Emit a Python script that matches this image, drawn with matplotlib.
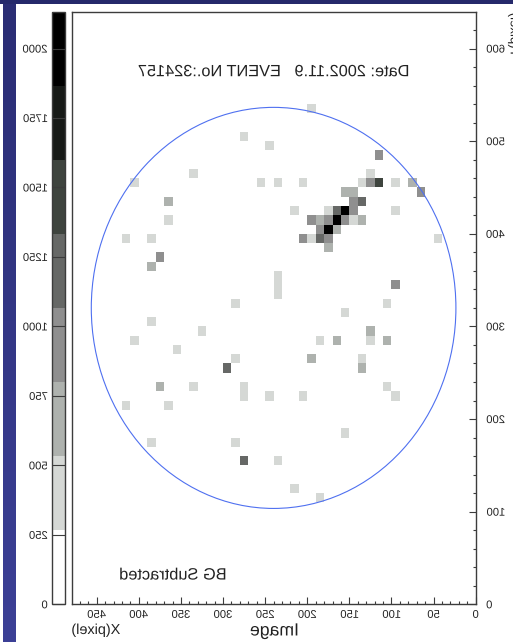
import numpy as np
import matplotlib
matplotlib.use("Agg")
import matplotlib.pyplot as plt
from matplotlib.colors import ListedColormap, BoundaryNorm, LinearSegmentedColormap
from matplotlib.patches import Circle, Rectangle
from matplotlib.patheffects import AbstractPathEffect
from matplotlib.transforms import Affine2D

plt.rcParams['font.family'] = ['Liberation Sans', 'DejaVu Sans']

# Event image: occupied 10x10 pixel bins as (column, row), grouped by count
cells_400 = [(12, 46), (25, 45), (23, 45), (20, 45), (13, 45), (9, 45), (21, 42), (17, 42), (9, 42),
             (14, 41), (19, 39), (4, 39), (23, 35), (23, 34), (23, 33), (24, 49), (10, 32), (19, 53),
             (27, 50), (33, 46), (40, 45), (36, 41), (41, 39), (38, 39), (28, 32), (38, 30), (32, 29),
             (40, 28), (35, 27), (28, 26), (33, 23), (27, 23), (27, 22), (24, 22), (41, 21), (36, 21),
             (38, 17), (28, 17), (23, 15), (15, 31), (12, 28), (18, 28), (13, 26), (10, 23), (9, 22),
             (20, 22), (15, 18), (21, 12), (18, 11)]
cells_650 = [(7, 45), (15, 44), (14, 44), (18, 41), (13, 41), (16, 40), (17, 38), (36, 43), (38, 36),
             (37, 23), (12, 29), (10, 28), (16, 28), (19, 26), (13, 25)]
cells_950 = [(11, 48), (12, 45), (6, 44), (14, 43), (14, 42), (19, 41), (17, 41), (15, 41), (18, 40),
             (20, 39), (17, 39), (9, 34), (37, 37)]
cells_1200 = [(13, 43), (16, 42), (18, 39), (29, 25), (27, 15)]
cells_1450 = [(11, 45)]
cells_2000 = [(15, 42), (16, 41), (17, 40)]

levels = [0, 266.67, 533.33, 800, 1066.67, 1333.33, 1600, 1866.67, 2133.33]
level_colors = ['#ffffff', '#d5d8d5', '#aeb2ae', '#8f8f8f', '#666866', '#3e443e', '#171a17', '#000000']
x_ticks = [0, 50, 100, 150, 200, 250, 300, 350, 400, 450]
y_ticks = [0, 100, 200, 300, 400, 500, 600]
bar_ticks = [0, 250, 500, 750, 1000, 1250, 1500, 1750, 2000]
ring_centre = (240, 320)
ring_radius = 216.5

W, H = 513, 642
INK = '#3c3c3c'


class Mirror(AbstractPathEffect):
    """Draw glyphs reflected left to right about the middle of the string."""
    def draw_path(self, renderer, gc, tpath, affine, rgbFace=None):
        ext = tpath.transformed(affine).get_extents()
        cx = (ext.x0 + ext.x1) / 2
        flip = Affine2D().translate(-cx, 0).scale(-1, 1).translate(cx, 0)
        renderer.draw_path(gc, tpath, affine + flip, rgbFace)


def box(l, t, r, b):
    return [l / W, 1 - b / H, (r - l) / W, (b - t) / H]


fig = plt.figure(figsize=(W / 100, H / 100), dpi=100, facecolor='white')

# Slide background: navy strips
bg = fig.add_axes([0, 0, 1, 1], zorder=-1)
grad = LinearSegmentedColormap.from_list('navy', ['#2a2d74', '#3c4096'])
bg.imshow(np.linspace(0, 1, 256)[:, None], extent=(3, 16, H, 0), cmap=grad, aspect='auto')
bg.set_xlim(0, W)
bg.set_ylim(H, 0)
bg.axis('off')
bg.add_patch(Rectangle((0, 0), W, 4, facecolor='#25296b', edgecolor='none'))

# Main image
ax = fig.add_axes(box(71.5, 11.5, 475.7, 604.3))
edges_x = np.arange(0, 481, 10)
edges_y = np.arange(0, 641, 10)
Z = np.zeros((64, 48))
for count, cells in [(400, cells_400), (650, cells_650), (950, cells_950),
                     (1200, cells_1200), (1450, cells_1450), (2000, cells_2000)]:
    for col, row in cells:
        Z[row, col] = count
cmap = ListedColormap(level_colors)
norm = BoundaryNorm(levels, cmap.N)
mesh = ax.pcolormesh(edges_x, edges_y, Z, cmap=cmap, norm=norm, linewidth=0)
ax.set_xlim(480, 0)
ax.set_ylim(0, 640)
ax.add_patch(Circle(ring_centre, ring_radius, fill=False, edgecolor='#4f70f0', linewidth=0.8))

ax.xaxis.set_ticks(x_ticks)
ax.xaxis.set_ticks(np.arange(0, 480, 10), minor=True)
ax.yaxis.set_ticks(y_ticks)
ax.yaxis.set_ticks(np.arange(0, 640, 20), minor=True)
ax.yaxis.tick_right()
ax.tick_params(axis='both', which='major', direction='in', length=5, width=0.8, color=INK,
               labelsize=8.1, labelcolor='#222222')
ax.tick_params(axis='both', which='minor', direction='in', length=2.5, width=0.8, color=INK)
ax.tick_params(axis='x', which='major', pad=4)
ax.tick_params(axis='y', which='major', pad=7.5)
for s in ax.spines.values():
    s.set_color(INK)
    s.set_linewidth(1)

mirrored = list(ax.get_xticklabels()) + list(ax.get_yticklabels())
mirrored.append(ax.set_xlabel('Image', fontsize=12.7, color='#222222', va='center'))
ax.xaxis.set_label_coords(0.5, -0.045)
mirrored.append(ax.set_ylabel('Y(pixel)', fontsize=9.5, color='#222222', va='center', rotation=90))
ax.yaxis.set_label_position('right')
ax.yaxis.set_label_coords((508.5 - 71.5) / 404.2, (604.3 - 35) / 592.8)
mirrored.append(ax.text(240, 575, 'Date: 2002.11.9   EVENT No.:324157', fontsize=11.75,
                        ha='center', va='center', color='#222222'))
mirrored.append(ax.text(360, 31.6, 'BG Subtracted', fontsize=11.8,
                        ha='center', va='center', color='#222222'))
mirrored.append(fig.text(96.5 / W, 1 - 630 / H, 'X(pixel)', fontsize=10.4,
                         ha='center', va='center', color='#222222'))

# Colour scale
cax = fig.add_axes(box(52, 11.5, 64.7, 604.3))
cbar = fig.colorbar(mesh, cax=cax, boundaries=levels, ticks=bar_ticks,
                    spacing='proportional', ticklocation='left')
cbar.minorticks_off()
cax.tick_params(axis='y', which='major', direction='in', length=9.1, width=0.8, color=INK,
                labelsize=8.1, labelcolor='#222222', pad=3)
cbar.outline.set_edgecolor(INK)
cbar.outline.set_linewidth(1)
mirrored += list(cax.get_yticklabels())

for t in mirrored:
    t.set_path_effects([Mirror()])

fig.savefig('out.png', dpi=100)
